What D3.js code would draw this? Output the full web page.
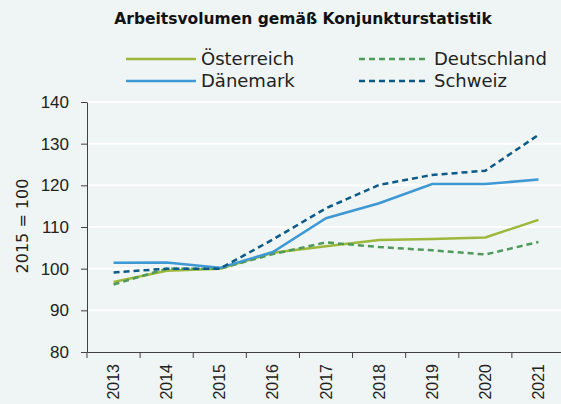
<!DOCTYPE html>
<html>
<head>
<meta charset="utf-8">
<script src="https://cdn.jsdelivr.net/npm/d3@7"></script>
<style>
  body { margin: 0; background: #eff5f5; }
  svg { display: block; font-family: "DejaVu Sans", sans-serif; }
  .grid line { stroke: #ffffff; stroke-width: 2px; }
  .axis path, .axis line { stroke: #404040; stroke-width: 1px; }
  .axis text { fill: #222; font-size: 16px; }
</style>
</head>
<body>
<script>
  var years = ["2013", "2014", "2015", "2016", "2017", "2018", "2019", "2020", "2021"];
  var oesterreich = [96.8, 99.5, 100, 103.8, 105.4, 106.9, 107.1, 107.5, 111.7];
  var deutschland = [96.2, 100, 100, 103.5, 106.3, 105.2, 104.4, 103.4, 106.4];
  var daenemark = [101.4, 101.5, 100.2, 104.0, 112.1, 115.7, 120.3, 120.3, 121.4];
  var schweiz = [99.1, 100, 100, 107.0, 114.5, 120.1, 122.5, 123.5, 132.1];
  var yTicks = [80, 90, 100, 110, 120, 130, 140];

  var series = [
    {name: "Österreich", values: oesterreich, color: "#9cb83a", dash: null},
    {name: "Deutschland", values: deutschland, color: "#4f9a5a", dash: "6,4"},
    {name: "Dänemark", values: daenemark, color: "#3d98d3", dash: null},
    {name: "Schweiz", values: schweiz, color: "#0b5a87", dash: "6,4"}
  ];

  var W = 561, H = 404;
  var margin = {top: 102, right: -4, bottom: 52, left: 87};
  var width = W - margin.left - margin.right;
  var height = H - margin.top - margin.bottom;

  var svg = d3.select('body').append('svg')
      .attr('width', W)
      .attr('height', H);

  var g = svg.append('g')
      .attr('transform', `translate(${margin.left}, ${margin.top})`);

  var xScale = d3.scaleBand().domain(years).range([0, width]);
  var yScale = d3.scaleLinear().domain([80, 140]).range([height, 0]);

  // white gridlines
  g.append('g').attr('class', 'grid')
    .selectAll('line')
    .data(yTicks.filter(d => d > 80))
    .enter().append('line')
    .attr('x1', 0).attr('x2', width)
    .attr('y1', d => yScale(d)).attr('y2', d => yScale(d));

  // y axis
  var yAxis = g.append('g').attr('class', 'axis')
    .call(d3.axisLeft(yScale).tickValues(yTicks).tickSize(6).tickPadding(12).tickSizeOuter(0));
  yAxis.selectAll('text').style('font-size', '17px');

  // x axis
  var xAxis = g.append('g').attr('class', 'axis')
    .attr('transform', 'translate(0,' + height + ')')
    .call(d3.axisBottom(xScale).tickSize(0).tickSizeOuter(0));
  xAxis.selectAll('.tick text')
    .attr('transform', 'rotate(-90)')
    .attr('x', -12).attr('y', 0).attr('dy', '0.35em')
    .style('text-anchor', 'end')
    .style('font-size', '16px');
  // tick marks between categories
  xAxis.selectAll('.sep')
    .data(years)
    .enter().append('line')
    .attr('class', 'sep')
    .attr('x1', d => xScale(d)).attr('x2', d => xScale(d))
    .attr('y1', 0).attr('y2', 6);

  var line = d3.line()
    .x((d, i) => xScale(years[i]) + xScale.bandwidth() / 2)
    .y(d => yScale(d));

  series.forEach(function(s) {
    g.append('path')
      .datum(s.values)
      .attr('fill', 'none')
      .attr('stroke', s.color)
      .attr('stroke-width', 2.5)
      .attr('stroke-dasharray', s.dash)
      .attr('d', line);
  });

  // title
  svg.append('text')
    .attr('x', 303).attr('y', 24)
    .style('text-anchor', 'middle')
    .style('font-weight', 'bold')
    .style('font-size', '15.5px')
    .style('fill', '#111')
    .text('Arbeitsvolumen gemäß Konjunkturstatistik');

  // legend
  var legendPos = [
    {x: 126, y: 59}, {x: 359, y: 59}, {x: 126, y: 81}, {x: 359, y: 81}
  ];
  series.forEach(function(s, i) {
    var p = legendPos[i];
    svg.append('line')
      .attr('x1', p.x).attr('x2', p.x + 70)
      .attr('y1', p.y).attr('y2', p.y)
      .attr('stroke', s.color)
      .attr('stroke-width', 2.5)
      .attr('stroke-dasharray', s.dash);
    svg.append('text')
      .attr('x', p.x + 75).attr('y', p.y)
      .attr('dy', '0.35em')
      .style('font-size', '18px')
      .style('fill', '#222')
      .text(s.name);
  });

  // y axis title
  svg.append('text')
    .attr('transform', 'translate(22,226) rotate(-90)')
    .attr('dy', '0.35em')
    .style('text-anchor', 'middle')
    .style('font-size', '16px')
    .style('fill', '#222')
    .text('2015 = 100');
</script>
</body>
</html>
